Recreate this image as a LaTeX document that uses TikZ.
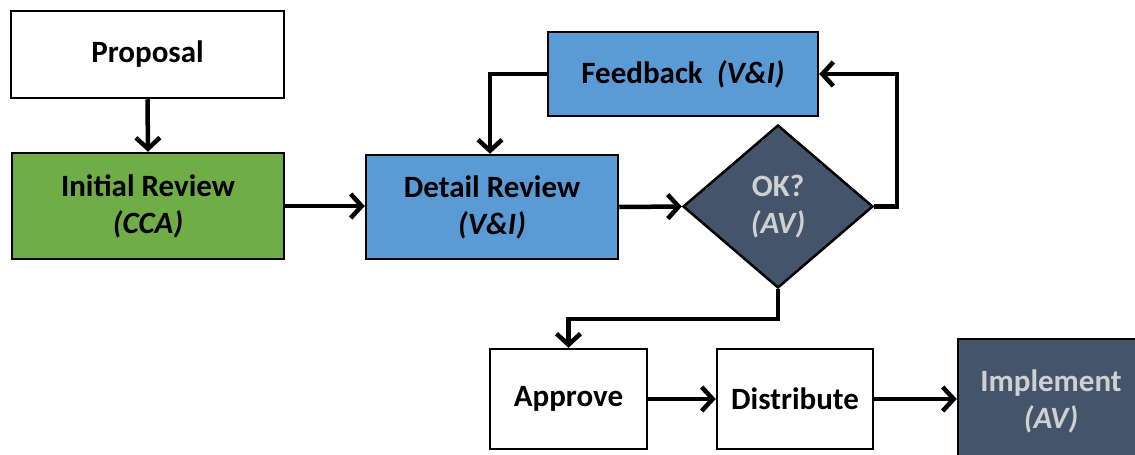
\documentclass[tikz,border=0pt]{standalone}
\usepackage{fontspec}
\setmainfont{Carlito}
\usetikzlibrary{arrows.meta,shapes.geometric}
\definecolor{cgreen}{HTML}{70AD47}
\definecolor{cblue}{HTML}{5B9BD5}
\definecolor{cdark}{HTML}{44546A}
\definecolor{clight}{HTML}{D0D0D0}
\tikzset{
  box/.style={draw=black, line width=2.5pt, inner sep=0pt, align=center, font=\bfseries\fontsize{31}{37}\selectfont},
  conn/.style={line width=4.5pt, -{Straight Barb[length=11pt,width=24pt,line width=4.5pt]}},
}
\begin{document}
\begin{tikzpicture}[x=1pt,y=-1pt]
\useasboundingbox (0,0) rectangle (1135,455);
\clip (0,0) rectangle (1135,455);
\fill[white] (0,0) rectangle (1135,455);
\node[box, fill=white, minimum width=273pt, minimum height=87pt] (prop) at (147.5,54.5) {Proposal};
\node[box, fill=cgreen, minimum width=272pt, minimum height=106pt] (init) at (148,206) {Initial Review\\\textit{(CCA)}};
\node[box, fill=cblue, minimum width=252pt, minimum height=104pt] (det) at (492,207) {Detail Review\\\textit{(V\&I)}};
\node[box, fill=cblue, minimum width=270pt, minimum height=84pt] (fb) at (683,74) {Feedback\ \ \textit{(V\&I)}};
\node[box, diamond, fill=cdark, text=clight, minimum width=190pt, minimum height=163pt] (ok) at (778,206.5) {OK?\\\textit{(AV)}};
\node[box, fill=white, minimum width=157pt, minimum height=100pt] (appr) at (568.5,399) {Approve};
\node[box, fill=white, minimum width=156pt, minimum height=100pt] (dist) at (795,399) {Distribute};
\node[box, fill=cdark, text=clight, minimum width=186pt, minimum height=124pt] (impl) at (1051,401) {Implement\\\textit{(AV)}};
\coordinate (r1) at (897,206.5);
\coordinate (l1) at (490,74);
\coordinate (d1) at (778,319);
\draw[conn] (prop.south) -- (init.north);
\draw[conn] (init.east) -- (det.west |- init.east);
\draw[conn] (det.east) -- (ok.west);
\draw[conn] (ok.east) -- (r1) |- (fb.east);
\draw[conn] (fb.west) -- (l1) -- (l1 |- det.north);
\draw[conn] (ok.south) -- (d1) -| (appr.north);
\draw[conn] (appr.east) -- (dist.west);
\draw[conn] (dist.east) -- (impl.west |- dist.east);
\end{tikzpicture}
\end{document}
